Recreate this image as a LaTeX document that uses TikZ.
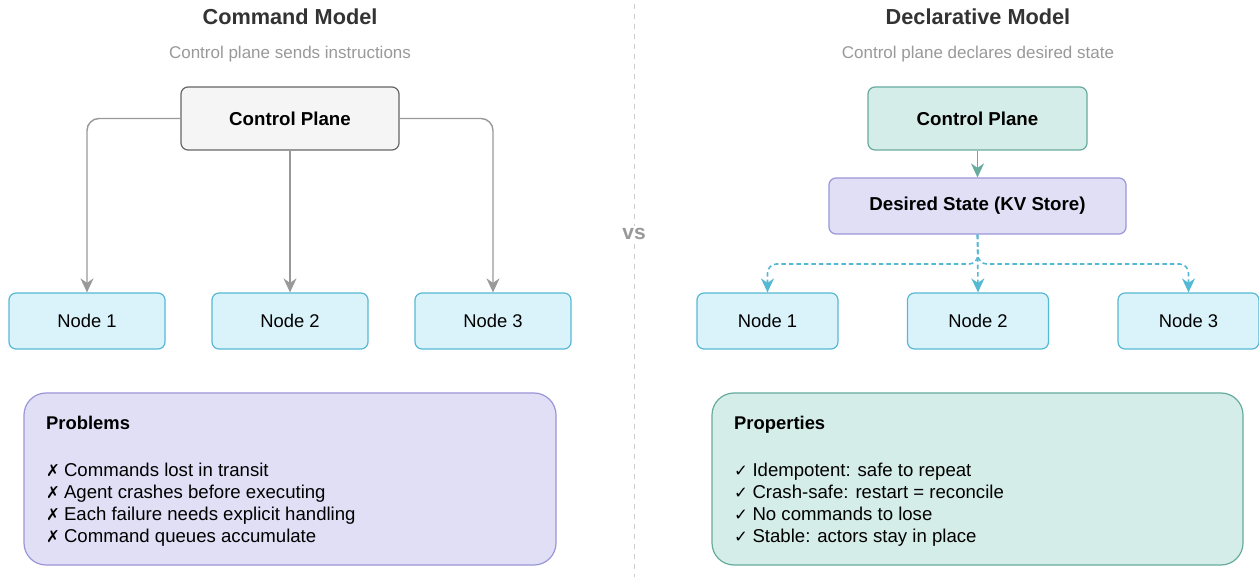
\documentclass[tikz,border=0pt]{standalone}
\usepackage{fontspec}
\setmainfont{Liberation Sans}
\newfontfamily\symfont{DejaVu Sans}
\usetikzlibrary{arrows.meta}
\definecolor{titlec}{HTML}{333333}
\definecolor{subc}{HTML}{999999}
\definecolor{grayfill}{HTML}{F5F5F5}
\definecolor{graydraw}{HTML}{666666}
\definecolor{arrgray}{HTML}{999999}
\definecolor{cyanfill}{HTML}{DAF3FB}
\definecolor{cyandraw}{HTML}{56B9D4}
\definecolor{lavfill}{HTML}{E1DFF5}
\definecolor{lavdraw}{HTML}{9B96D8}
\definecolor{tealfill}{HTML}{D5EDE8}
\definecolor{tealdraw}{HTML}{67AB9F}
\definecolor{divc}{HTML}{CCCCCC}
\newcommand{\symx}{{\symfont\fontsize{16.5}{18}\selectfont ✗}\hspace{4pt}}
\newcommand{\symv}{{\symfont\fontsize{16.5}{18}\selectfont ✓}\hspace{4.5pt}}
\tikzset{
  box/.style={draw, line width=1.2pt, rounded corners=7pt, inner sep=0pt, align=center},
  graybox/.style={box, fill=grayfill, draw=graydraw, font=\fontsize{18.7}{22}\selectfont\bfseries},
  cyanbox/.style={box, fill=cyanfill, draw=cyandraw, font=\fontsize{18.4}{22}\selectfont},
  lavbox/.style={box, fill=lavfill, draw=lavdraw, font=\fontsize{18.7}{22}\selectfont\bfseries},
  tealbox/.style={box, fill=tealfill, draw=tealdraw, font=\fontsize{18.7}{22}\selectfont\bfseries},
  bigbox/.style={draw, line width=1.2pt, rounded corners=22pt, inner sep=0pt},
  title/.style={font=\fontsize{21.7}{25}\selectfont\bfseries, text=titlec},
  subtitle/.style={font=\fontsize{17}{20}\selectfont, text=subc},
  listtxt/.style={font=\fontsize{18.6}{22}\selectfont, anchor=base west, inner sep=0pt},
  headtxt/.style={font=\fontsize{18.4}{22}\selectfont\bfseries, anchor=base west, inner sep=0pt},
  tip/.style={-{Stealth[length=14pt,width=13pt,inset=4.5pt]}},
  grayarrow/.style={tip, draw=arrgray, line width=1.4pt, rounded corners=12pt},
  tealarrow/.style={tip, draw=tealdraw, line width=1.6pt},
  cyanarrow/.style={tip, draw=cyandraw, line width=1.6pt, dash pattern=on 4.5pt off 3pt, rounded corners=9pt},
}
\begin{document}
\begin{tikzpicture}[x=1pt,y=-1pt]
\useasboundingbox (0,0) rectangle (1259,577);
\fill[white] (0,0) rectangle (1259,577);

% divider
\draw[divc, line width=1pt, dash pattern=on 5pt off 5pt] (634,4) -- (634,577);
\node[fill=white, inner sep=2pt, text=subc, font=\fontsize{21}{24}\selectfont\bfseries] (vs) at (634,234) {vs};

% ===== Left: Command Model =====
\node[title] (t1) at (290,17) {Command Model};
\node[subtitle] (s1) at (290,54) {Control plane sends instructions};
\node[graybox, minimum width=218pt, minimum height=63pt] (cp1) at (290,118.5) {Control Plane};
\node[cyanbox, minimum width=156pt, minimum height=56pt] (a1) at (87,321) {Node 1};
\node[cyanbox, minimum width=156pt, minimum height=56pt] (a2) at (290,321) {Node 2};
\node[cyanbox, minimum width=156pt, minimum height=56pt] (a3) at (493,321) {Node 3};
\draw[grayarrow] (cp1.west) -| (a1.north);
\draw[grayarrow] (cp1.south) -- (a2.north);
\draw[grayarrow] (cp1.east) -| (a3.north);

\node[bigbox, fill=lavfill, draw=lavdraw, minimum width=532pt, minimum height=172pt] (prob) at (290,479) {};
\node[headtxt] (ph) at (46,429) {Problems};
\node[listtxt] (p1) at (46,476) {\symx Commands lost in transit};
\node[listtxt] (p2) at (46,498) {\symx Agent crashes before executing};
\node[listtxt] (p3) at (46,520.5) {\symx Each failure needs explicit handling};
\node[listtxt] (p4) at (46,542.5) {\symx Command queues accumulate};

% ===== Right: Declarative Model =====
\node[title] (t2) at (978,17) {Declarative Model};
\node[subtitle] (s2) at (978,54) {Control plane declares desired state};
\node[tealbox, minimum width=219pt, minimum height=63pt] (cp2) at (977.5,118.5) {Control Plane};
\node[lavbox, minimum width=297pt, minimum height=56pt] (ds) at (977.5,206) {Desired State (KV Store)};
\node[cyanbox, minimum width=141pt, minimum height=56pt] (b1) at (767.5,321) {Node 1};
\node[cyanbox, minimum width=141pt, minimum height=56pt] (b2) at (978,321) {Node 2};
\node[cyanbox, minimum width=141pt, minimum height=56pt] (b3) at (1188.5,321) {Node 3};
\coordinate (split) at (978,264);
\draw[tealarrow] (cp2.south) -- (ds.north);
\draw[cyanarrow] (ds.south) -- (split) -| (b1.north);
\draw[cyanarrow] (ds.south) -- (b2.north);
\draw[cyanarrow] (ds.south) -- (split) -| (b3.north);

\node[bigbox, fill=tealfill, draw=tealdraw, minimum width=531pt, minimum height=172pt] (props) at (977.5,479) {};
\node[headtxt] (rh) at (734,429) {Properties};
\node[listtxt] (r1) at (734,476) {\symv Idempotent: safe to repeat};
\node[listtxt] (r2) at (734,498) {\symv Crash-safe: restart = reconcile};
\node[listtxt] (r3) at (734,520.5) {\symv No commands to lose};
\node[listtxt] (r4) at (734,542.5) {\symv Stable: actors stay in place};
\end{tikzpicture}
\end{document}
